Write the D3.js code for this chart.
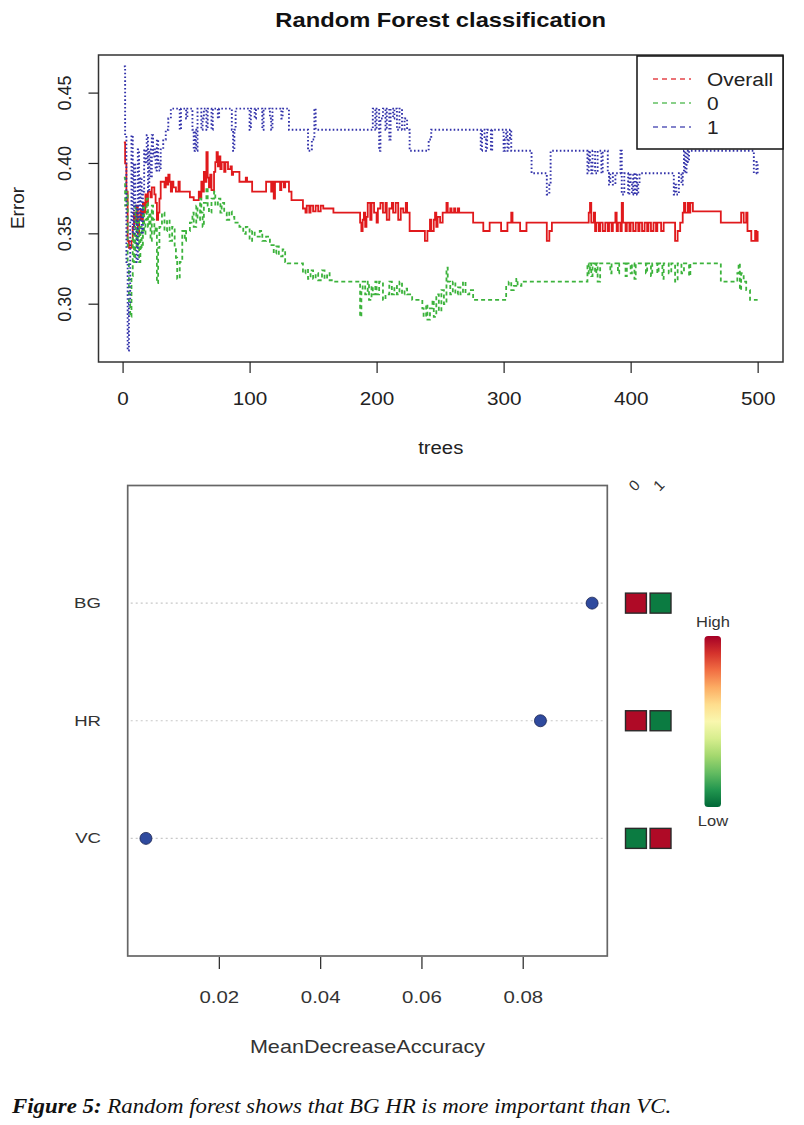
<!DOCTYPE html>
<html><head><meta charset="utf-8">
<script src="https://cdn.jsdelivr.net/npm/d3@7"></script>
<style>
html,body{margin:0;padding:0;background:#fff;}
svg{display:block;font-family:"Liberation Sans",Arial,Helvetica,sans-serif;}
</style></head>
<body>
<svg id="chart" width="804" height="1125"></svg>
<script>
// ---------- DATA (top panel: OOB error vs number of trees, step breakpoints [tree, error]) ----------
const treeTicks = [0, 100, 200, 300, 400, 500];
const errorTicks = [0.30, 0.35, 0.40, 0.45];
const seriesNames = ["Overall", "0", "1"];

const overallErr = [
[1,0.415],[2,0.40],[3,0.38],[4,0.345],[5,0.34],[7,0.345],[8,0.355],[9,0.365],[10,0.358],[11,0.37],[12,0.35],[13,0.36],[14,0.367],[15,0.36],[16,0.372],[17,0.365],[18,0.378],[19,0.372],[20,0.38],[22,0.376],[23,0.383],[25,0.378],[26,0.372],[27,0.36],[28,0.365],[29,0.375],[30,0.387],
[33,0.383],[34,0.39],[35,0.385],[36,0.392],[37,0.387],[38,0.38],[39,0.387],[40,0.383],[42,0.38],[44,0.387],[45,0.38],[53,0.376],[56,0.374],[60,0.38],[61,0.376],[62,0.387],[63,0.38],[64,0.394],[65,0.387],[66,0.408],[67,0.39],[68,0.383],[69,0.392],[70,0.381],[72,0.394],[73,0.401],[74,0.408],[75,0.398],[76,0.405],[77,0.396],[78,0.401],[80,0.394],[81,0.401],[83,0.396],[85,0.398],[86,0.392],[87,0.394],[92,0.387],[97,0.39],[98,0.387],[102,0.38],[113,0.387],[117,0.38],[118,0.387],[119,0.375],[120,0.387],[124,0.381],[125,0.387],[127,0.383],[128,0.387],[131,0.38],[133,0.374],
[142,0.368],[144,0.365],[145,0.37],[147,0.365],[148,0.37],[150,0.366],[152,0.37],[154,0.366],[156,0.37],[158,0.368],[166,0.365],
[187,0.358],[188,0.352],[189,0.36],[190,0.365],[191,0.355],[192,0.362],[193,0.372],[195,0.36],[196,0.372],[198,0.365],[200,0.358],[201,0.368],[203,0.372],[205,0.365],[207,0.372],[208,0.36],[210,0.368],[212,0.372],[213,0.365],[215,0.372],[217,0.36],[219,0.368],[221,0.365],[223,0.372],[224,0.365],[226,0.352],
[238,0.345],[240,0.352],[242,0.36],[243,0.352],[245,0.36],[246,0.365],[247,0.355],[248,0.362],[250,0.358],[252,0.365],[255,0.372],[256,0.365],[258,0.368],[259,0.365],[261,0.368],[262,0.365],[264,0.368],[265,0.365],[276,0.358],[284,0.352],[289,0.358],[298,0.352],[303,0.358],[306,0.365],[307,0.358],[313,0.352],[318,0.358],
[334,0.345],[336,0.352],[338,0.358],[367,0.365],[368,0.372],[369,0.358],[371,0.365],[372,0.352],[373,0.358],[375,0.352],[376,0.358],[378,0.352],[380,0.358],[382,0.352],[383,0.358],[385,0.352],[386,0.358],[388,0.365],[389,0.352],[390,0.358],[392,0.352],[393,0.372],[394,0.358],[396,0.352],[397,0.358],[399,0.352],[400,0.358],[402,0.352],[404,0.358],[406,0.352],[407,0.358],[409,0.352],[411,0.358],[413,0.352],[414,0.358],[416,0.352],[418,0.358],[420,0.352],[421,0.358],[424,0.352],[426,0.358],[435,0.345],[437,0.352],[439,0.358],[441,0.365],[442,0.372],[443,0.365],[445,0.372],[446,0.365],[447,0.372],[449,0.366],[471,0.358],[487,0.365],[489,0.358],[491,0.365],[492,0.352],[495,0.345],[498,0.352],[499,0.345],[500,0.352]
];

const class0Err = [
[1,0.39],[2,0.37],[3,0.38],[4,0.33],[5,0.30],[6,0.291],[7,0.32],[8,0.35],[9,0.33],[10,0.37],[11,0.34],[12,0.36],[13,0.33],[14,0.355],[15,0.34],[16,0.37],[17,0.35],[18,0.36],[19,0.375],[20,0.355],[21,0.365],[22,0.345],[23,0.37],[24,0.36],[25,0.35],[26,0.355],[27,0.315],[28,0.34],[29,0.355],[31,0.365],[33,0.352],[35,0.36],[37,0.345],[39,0.355],[41,0.34],[42,0.333],[43,0.318],[45,0.33],[47,0.352],[49,0.345],[50,0.352],[53,0.358],[55,0.365],[56,0.355],[58,0.37],[59,0.36],[61,0.375],[62,0.365],[63,0.355],[64,0.372],[66,0.383],[67,0.37],[68,0.365],[70,0.375],[72,0.38],[73,0.37],[75,0.375],[77,0.365],[78,0.372],[80,0.365],[82,0.36],[84,0.366],[86,0.362],[88,0.358],[92,0.355],[95,0.35],[97,0.355],[100,0.345],[102,0.352],[104,0.348],[108,0.352],[110,0.345],[113,0.348],[116,0.342],[119,0.336],[121,0.341],[123,0.334],[126,0.339],[128,0.33],[130,0.329],[142,0.322],[144,0.325],[146,0.318],[148,0.324],[150,0.318],[152,0.322],[154,0.317],[157,0.324],[159,0.318],[161,0.322],[163,0.317],[166,0.316],
[187,0.291],[188,0.31],[189,0.316],[191,0.307],[193,0.316],[194,0.303],[196,0.313],[197,0.307],[199,0.316],[200,0.307],[202,0.316],[205,0.303],[207,0.307],[210,0.316],[212,0.307],[214,0.313],[216,0.307],[218,0.316],[220,0.307],[222,0.311],[224,0.307],[228,0.303],
[236,0.297],[237,0.291],[239,0.30],[240,0.289],[242,0.297],[244,0.303],[245,0.291],[247,0.307],[249,0.295],[251,0.31],[253,0.30],[255,0.326],[256,0.316],[258,0.307],[260,0.316],[262,0.307],[264,0.312],[266,0.307],[268,0.316],[270,0.307],[273,0.31],[276,0.303],[302,0.313],[304,0.316],[306,0.31],[308,0.313],[310,0.318],[311,0.313],[314,0.316],
[366,0.329],[367,0.322],[368,0.329],[369,0.32],[370,0.329],[372,0.322],[373,0.329],[374,0.316],[376,0.329],
[384,0.322],[385,0.329],[390,0.322],[391,0.329],[396,0.32],[397,0.329],[400,0.322],[401,0.329],[403,0.318],[404,0.329],[412,0.322],[413,0.329],[416,0.32],[417,0.329],[421,0.322],[422,0.329],[425,0.318],[426,0.329],[430,0.322],[432,0.329],[435,0.316],[437,0.329],[440,0.322],[442,0.329],[446,0.32],[447,0.329],
[471,0.316],[484,0.322],[485,0.329],[486,0.31],[487,0.322],[489,0.316],[491,0.31],[494,0.303],[500,0.303]
];

const class1Err = [
[1,0.469],[2,0.42],[3,0.33],[4,0.267],[5,0.30],[6,0.36],[7,0.42],[8,0.35],[9,0.40],[10,0.37],[11,0.33],[12,0.41],[13,0.36],[14,0.39],[15,0.35],[16,0.38],[17,0.41],[18,0.40],[19,0.42],[20,0.38],[21,0.41],[22,0.39],[23,0.42],[24,0.405],[25,0.41],[26,0.395],[27,0.417],[28,0.40],[29,0.395],[30,0.41],[32,0.417],[34,0.424],[36,0.432],[38,0.439],
[45,0.424],[46,0.439],[50,0.432],[51,0.439],[55,0.424],[56,0.409],[57,0.424],[58,0.409],[59,0.439],[62,0.424],[63,0.432],[64,0.439],[66,0.424],[67,0.439],[70,0.424],[71,0.439],[75,0.432],[76,0.439],[86,0.424],[87,0.409],[88,0.424],[89,0.439],[100,0.424],[101,0.439],[104,0.432],[105,0.439],[110,0.424],[111,0.439],[116,0.432],[117,0.424],[118,0.439],[125,0.432],[126,0.439],[131,0.424],[146,0.409],[149,0.417],[151,0.439],[152,0.424],
[197,0.439],[199,0.424],[200,0.439],[202,0.409],[203,0.432],[205,0.439],[207,0.424],[208,0.439],[210,0.417],[211,0.439],[213,0.432],[214,0.439],[216,0.424],[218,0.439],[220,0.424],[222,0.432],[224,0.424],[226,0.409],
[241,0.417],[243,0.424],[282,0.409],[283,0.424],[285,0.417],[286,0.409],[287,0.424],[290,0.409],[291,0.424],[300,0.409],[301,0.417],[302,0.424],[303,0.409],[304,0.417],[305,0.424],[306,0.409],
[322,0.393],[334,0.378],[336,0.385],[337,0.409],
[366,0.393],[367,0.409],[368,0.402],[369,0.393],[370,0.409],[372,0.393],[374,0.409],[377,0.393],[378,0.409],
[382,0.393],[383,0.385],[384,0.393],[386,0.385],[388,0.393],[392,0.409],[393,0.378],[395,0.393],
[398,0.378],[399,0.393],[400,0.385],[401,0.378],[402,0.393],[403,0.378],[404,0.393],[405,0.378],[406,0.385],[407,0.393],
[434,0.378],[435,0.385],[436,0.378],[438,0.393],[440,0.385],[441,0.393],[442,0.409],[443,0.393],[444,0.409],[445,0.401],[446,0.409],
[497,0.393],[499,0.401],[500,0.393]
];

// ---------- DATA (bottom panel: variable importance) ----------
const variables = ["BG", "HR", "VC"];
const meanDecreaseAccuracy = [0.0937, 0.0835, 0.0056];
const accuracyTicks = [0.02, 0.04, 0.06, 0.08];
const classLabels = ["0", "1"];
const classImportance0 = [1, 1, 0];   // relative importance for class 0 (High=1, Low=0)
const classImportance1 = [0, 0, 1];   // relative importance for class 1

// ---------- DRAW ----------
(function(){
const svg = d3.select("#chart");
svg.append("rect").attr("width",804).attr("height",1125).attr("fill","#fff");
const defs = svg.append("defs");

// horizontally widen text about its own anchor point
function stretch(sel, sx){
  sel.each(function(){
    const t = d3.select(this);
    const x0 = +t.attr("x") || 0, y0 = +t.attr("y") || 0;
    t.attr("transform", `translate(${x0},${y0}) scale(${sx},1) translate(${-x0},${-y0})`);
  });
}

// ===== Top panel =====
const T = {left:98.5, right:783, top:55, bottom:362};
const pad4 = (ext) => { const d = ext[1]-ext[0]; return [ext[0]-0.04*d, ext[1]+0.04*d]; };
const allErr = overallErr.concat(class0Err, class1Err).map(d=>d[1]);
const x = d3.scaleLinear().domain(pad4([1,500])).range([T.left, T.right]);
const y = d3.scaleLinear().domain(pad4(d3.extent(allErr))).range([T.bottom, T.top]);

const gTop = svg.append("g");
const line = d3.line().x(d=>x(d[0])).y(d=>y(d[1])).curve(d3.curveStepAfter);

const styles = [
  {data: overallErr, color:"#e0191c", dash:null, w:1.8},
  {data: class0Err, color:"#3cb33c", dash:"4,3", w:1.8},
  {data: class1Err, color:"#3333aa", dash:"1.6,2.2", w:1.9}
];
defs.append("clipPath").attr("id","clipTop").append("rect")
  .attr("x",T.left).attr("y",T.top).attr("width",T.right-T.left).attr("height",T.bottom-T.top);
styles.forEach(s=>{
  gTop.append("path").attr("d", line(s.data)).attr("fill","none")
    .attr("stroke", s.color).attr("stroke-width", s.w)
    .attr("stroke-dasharray", s.dash).attr("clip-path","url(#clipTop)");
});

gTop.append("rect").attr("x",T.left).attr("y",T.top).attr("width",T.right-T.left).attr("height",T.bottom-T.top)
  .attr("fill","none").attr("stroke","#333").attr("stroke-width",1.5);

// x axis
const xAxis = d3.axisBottom(x).tickValues(treeTicks).tickSize(11).tickPadding(19).tickFormat(d3.format("d"));
const gx = gTop.append("g").attr("transform",`translate(0,${T.bottom})`).call(xAxis);
gx.select(".domain").remove();
gx.selectAll("line").attr("stroke","#222").attr("stroke-width",1.2);
gx.selectAll("text").attr("font-size",18).attr("fill","#222");
stretch(gx.selectAll("text"), 1.15);

// y axis
const yAxis = d3.axisLeft(y).tickValues(errorTicks).tickSize(10).tickPadding(8).tickFormat(d3.format(".2f"));
const gy = gTop.append("g").attr("transform",`translate(${T.left},0)`).call(yAxis);
gy.select(".domain").remove();
gy.selectAll(".tick").attr("transform", null);
gy.selectAll(".tick line").attr("y1", d=>y(d)).attr("y2", d=>y(d)).attr("stroke","#222").attr("stroke-width",1.2);
gy.selectAll(".tick text").attr("font-size",18).attr("fill","#222")
  .attr("text-anchor","middle").attr("dy",null)
  .attr("x",-33).attr("y", d=>y(d)).attr("dominant-baseline","central")
  .attr("transform", d=>`rotate(-90, -33, ${y(d)})`);

// titles
const title = gTop.append("text").attr("x",(T.left+T.right)/2).attr("y",27).attr("text-anchor","middle")
  .attr("font-size",21).attr("font-weight","bold").attr("fill","#111").text("Random Forest classification");
stretch(title, 1.13);
const xl = gTop.append("text").attr("x",(T.left+T.right)/2).attr("y",454).attr("text-anchor","middle")
  .attr("font-size",19).attr("fill","#222").text("trees");
stretch(xl, 1.07);
gTop.append("text").attr("transform","translate(24,208) rotate(-90)").attr("text-anchor","middle")
  .attr("font-size",19).attr("fill","#222").text("Error");

// legend
const L = {x:637, y:56, w:146, h:93};
gTop.append("rect").attr("x",L.x).attr("y",L.y).attr("width",L.w).attr("height",L.h)
  .attr("fill","#fff").attr("stroke","#111").attr("stroke-width",1.5);
seriesNames.forEach((n,i)=>{
  const yy = 79 + i*24;
  gTop.append("line").attr("x1",653).attr("x2",691).attr("y1",yy).attr("y2",yy)
    .attr("stroke",styles[i].color).attr("stroke-width",1.4).attr("stroke-dasharray","5,4").attr("opacity",0.8);
  const lt = gTop.append("text").attr("x",707).attr("y",yy).attr("dominant-baseline","central")
    .attr("font-size",19).attr("fill","#222").text(n);
  stretch(lt, 1.1);
});

// ===== Bottom panel =====
const SX = 1.2;
const B = {left:127.7, right:607.3, top:485.5, bottom:956};
const xb = d3.scaleLinear().domain([0.0020, 0.0967]).range([B.left, B.right]);
const yb = d3.scalePoint().domain(variables).range([B.top, B.bottom]).padding(1);
const gBot = svg.append("g");

variables.forEach(v=>{
  gBot.append("line").attr("x1",B.left+3).attr("x2",B.right-2).attr("y1",yb(v)).attr("y2",yb(v))
    .attr("stroke","#c8c8c8").attr("stroke-width",1.2).attr("stroke-dasharray","2,3");
});
gBot.append("rect").attr("x",B.left).attr("y",B.top).attr("width",B.right-B.left).attr("height",B.bottom-B.top)
  .attr("fill","none").attr("stroke","#666").attr("stroke-width",1.7);

gBot.selectAll("circle.dot").data(variables).enter().append("circle")
  .attr("cx",(d,i)=>xb(meanDecreaseAccuracy[i])).attr("cy",d=>yb(d)).attr("r",6)
  .attr("fill","#2f4a9e").attr("stroke","#1a2350").attr("stroke-width",0.8);

const rl = gBot.selectAll("text.row").data(variables).enter().append("text")
  .attr("x",101).attr("y",d=>yb(d)).attr("text-anchor","end").attr("dominant-baseline","central")
  .attr("font-size",15.5).attr("fill","#333").text(d=>d);
stretch(rl, SX);

const xbAxis = d3.axisBottom(xb).tickValues(accuracyTicks).tickSize(12).tickPadding(22).tickFormat(d3.format(".2f"));
const gbx = gBot.append("g").attr("transform",`translate(0,${B.bottom+1})`).call(xbAxis);
gbx.select(".domain").remove();
gbx.selectAll("line").attr("stroke","#333").attr("stroke-width",1.3);
gbx.selectAll("text").attr("font-size",17).attr("fill","#333");
stretch(gbx.selectAll("text"), SX);
const bxl = gBot.append("text").attr("x",(B.left+B.right)/2).attr("y",1053).attr("text-anchor","middle")
  .attr("font-size",18).attr("fill","#333").text("MeanDecreaseAccuracy");
stretch(bxl, SX);

const heatColor = d3.scaleLinear().domain([0,1]).range([0.96,0.02]);
const col = d3.scaleBand().domain(classLabels).range([625.5,671]).paddingInner(0.15);
const heatVals = [classImportance0, classImportance1];
classLabels.forEach((c,ci)=>{
  variables.forEach((v,vi)=>{
    gBot.append("rect").attr("x",col(c)).attr("y",yb(v)-10).attr("width",col.bandwidth()).attr("height",20)
      .attr("fill", d3.interpolateRdYlGn(heatColor(heatVals[ci][vi])))
      .attr("stroke","#2a2a2a").attr("stroke-width",1.4);
  });
  const cx = col(c)+col.bandwidth()/2+2;
  gBot.append("text").attr("x",cx).attr("y",489).attr("text-anchor","middle")
    .attr("transform",`rotate(-45,${cx},489)`).attr("font-size",15).attr("fill","#333").text(c);
});

const grad = defs.append("linearGradient").attr("id","heatGrad").attr("x1",0).attr("x2",0).attr("y1",0).attr("y2",1);
d3.range(0,1.0001,0.1).forEach(t=>{
  grad.append("stop").attr("offset",t).attr("stop-color",d3.interpolateRdYlGn(t));
});
gBot.append("rect").attr("x",704.5).attr("y",636).attr("width",16.5).attr("height",171).attr("rx",3.5)
  .attr("fill","url(#heatGrad)");
const hi = gBot.append("text").attr("x",713).attr("y",627).attr("text-anchor","middle").attr("font-size",15).attr("fill","#333").text("High");
const lo = gBot.append("text").attr("x",713).attr("y",826).attr("text-anchor","middle").attr("font-size",15).attr("fill","#333").text("Low");
stretch(hi, 1.1); stretch(lo, 1.1);

// caption
const cap = svg.append("text").attr("x",12).attr("y",1113)
  .style("font-family","'Liberation Serif','Times New Roman',serif").style("font-style","italic")
  .attr("font-size",20).attr("fill","#111");
cap.append("tspan").style("font-weight","bold").text("Figure 5:");
cap.append("tspan").text(" Random forest shows that BG HR is more important than VC.");
const w = cap.node().getBBox().width;
const sc = 661 / w;
cap.attr("transform", `translate(12,1113) scale(${sc},1) translate(-12,-1113)`);
})();
</script>
</body></html>
